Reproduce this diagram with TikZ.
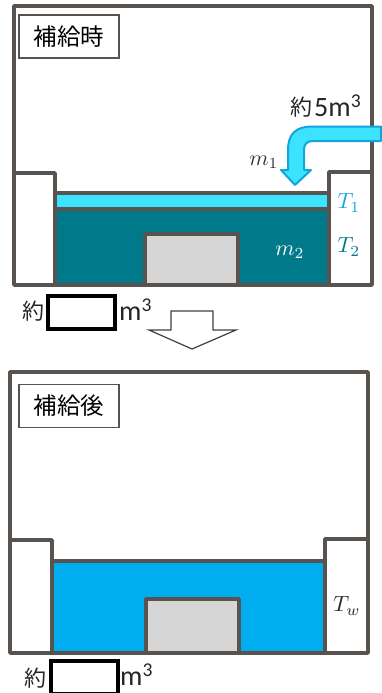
\documentclass[tikz,border=0pt]{standalone}
\usepackage{fontspec}
\setmainfont{Noto Sans CJK JP}
\newfontfamily\latinfont{Carlito}
\definecolor{wallgray}{HTML}{595350}
\definecolor{cyanlight}{HTML}{3BE3FF}
\definecolor{cyanedge}{HTML}{12A5DC}
\definecolor{tealdark}{HTML}{007A8A}
\definecolor{waterblue}{HTML}{00AEEF}
\definecolor{blockgray}{HTML}{D6D6D6}
\begin{document}
\begin{tikzpicture}[x=1pt,y=-1pt,
  wall/.style={draw=wallgray,line width=3.6pt,line join=round},
  tag/.style={draw=wallgray,line width=1.4pt,minimum width=100pt,minimum height=43pt,inner sep=0pt,font=\fontsize{23.5}{23.5}\selectfont},
  blank/.style={draw=black,line width=3.4pt,minimum width=67pt,minimum height=33pt,inner sep=0pt},
  txt/.style={inner sep=0pt,font=\fontsize{22}{22}\selectfont,text=black!85},
  unit/.style={inner sep=0pt,font=\fontsize{28}{28}\selectfont\latinfont,text=black!85},
  sym/.style={inner sep=0pt,scale=2.2}]

\useasboundingbox (0,0) rectangle (381,693);

% upper tank
\fill[cyanlight] (55,193) rectangle (329,209);
\fill[tealdark] (55,209) rectangle (329,285);
\draw[wall] (14,285) -- (14,6) -- (372,6) -- (372,285) -- cycle;
\draw[wall] (14,173) -- (55,173) -- (55,285);
\draw[wall] (372,172) -- (329,172) -- (329,285);
\draw[wall] (55,193) -- (329,193);
\draw[wall] (55,209) -- (329,209);
\draw[wall,fill=blockgray] (145,285) -- (145,234) -- (238,234) -- (238,285) -- cycle;

\node[tag,fill=white] (tagbefore) at (69,36.5) {補給時};

% inflow
\draw[fill=cyanlight,draw=cyanedge,line width=2pt,line join=round]
  (381,126.5) -- (312,126.5) .. controls (296,126.5) and (288,134) .. (288,150)
  -- (288,170) -- (281,170) -- (295,185) -- (311,170) -- (304,170) -- (304,150)
  .. controls (304,144) and (307,141) .. (313,141) -- (381,141) -- cycle;

\node[txt] (inflowjp) at (301,107) {約};
\node[unit,anchor=west] (inflowval) at (314,106) {5m\textsuperscript{3}};
\node[sym,text=black!80] (mone) at (264,162) {$m_1$};
\node[sym,text=white] (mtwo) at (290,252) {$m_2$};
\node[sym,text=cyanedge] (tone) at (349,203) {$T_1$};
\node[sym,text=tealdark] (ttwo) at (349,247) {$T_2$};

\node[txt] (volonejp) at (33,311) {約};
\node[blank,fill=white] (volone) at (81.5,312.5) {};
\node[unit,anchor=west] (volonem) at (119,310) {m\textsuperscript{3}};

% down arrow
\draw[draw=black!75,line width=1.2pt,fill=white,line join=miter]
  (171,311) -- (213,311) -- (213,330) -- (236,330) -- (192,349) -- (149,330) -- (171,330) -- cycle;

% lower tank
\fill[waterblue] (52,561) rectangle (325,653);
\draw[wall] (10,653) -- (10,372) -- (368,372) -- (368,653) -- cycle;
\draw[wall] (10,540) -- (52,540) -- (52,653);
\draw[wall] (368,539) -- (325,539) -- (325,653);
\draw[wall] (52,561) -- (325,561);
\draw[wall,fill=blockgray] (146,653) -- (146,599) -- (239,599) -- (239,653) -- cycle;

\node[tag,fill=white] (tagafter) at (69,406) {補給後};
\node[sym,text=black!85] (tw) at (347,606) {$T_w$};

\node[txt] (voltwojp) at (35,678) {約};
\node[blank,fill=white] (voltwo) at (84.5,677.5) {};
\node[unit,anchor=west] (voltwom) at (120,675) {m\textsuperscript{3}};
\end{tikzpicture}
\end{document}
